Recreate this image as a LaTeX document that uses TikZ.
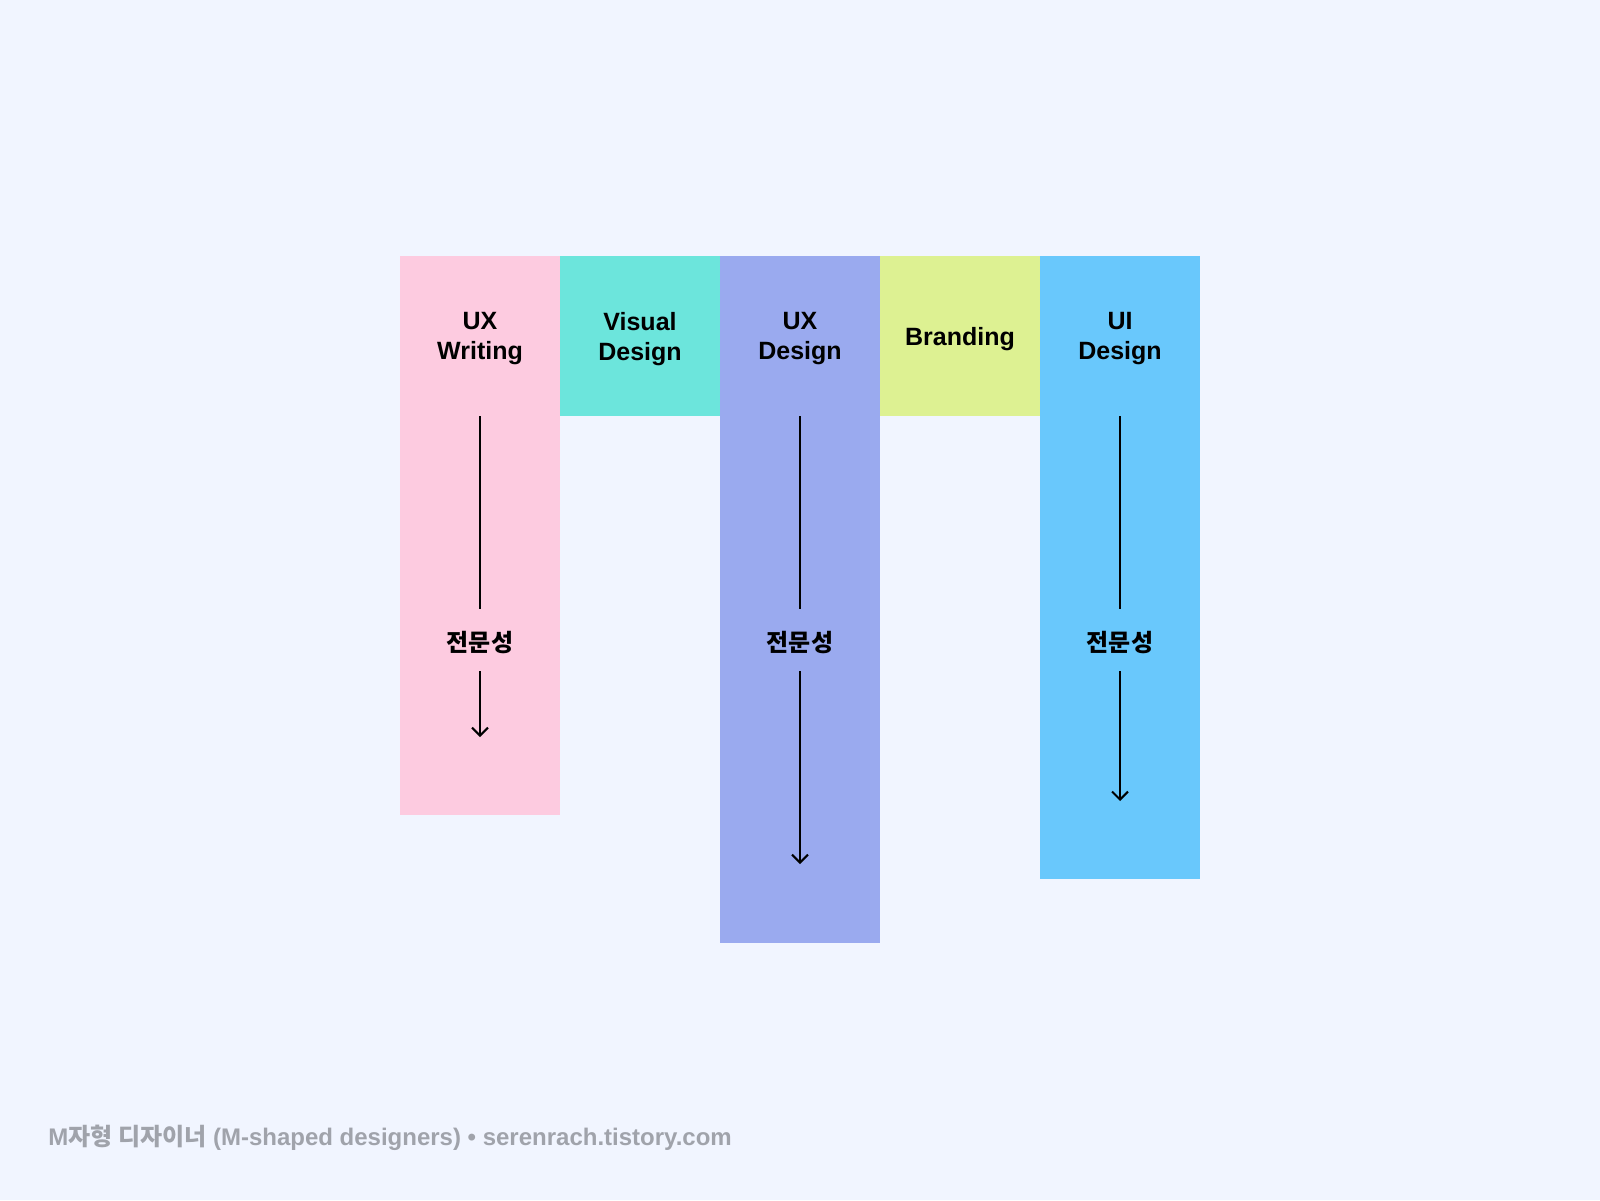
\documentclass[tikz,border=0pt]{standalone}
\usepackage{fontspec}
\setmainfont{Liberation Sans}
\newfontfamily\kr{Noto Sans CJK KR}
\usetikzlibrary{arrows.meta}
\definecolor{bgc}{HTML}{F1F5FF}
\definecolor{cpink}{HTML}{FDCBE0}
\definecolor{cteal}{HTML}{6CE5DC}
\definecolor{cpurple}{HTML}{9AAAEF}
\definecolor{clime}{HTML}{DDF192}
\definecolor{cblue}{HTML}{69C8FC}
\definecolor{foot}{HTML}{A0A3AB}
\tikzset{
  colbox/.style={anchor=north west, minimum width=80pt, inner sep=0pt, outer sep=0pt, draw=none},
  lab/.style={align=center, font=\bfseries\fontsize{12.5}{15}\selectfont, inner sep=0pt},
  kor/.style={font=\kr\bfseries\fontsize{12}{15}\selectfont, inner sep=0pt},
  stem/.style={line width=1pt, black},
  arr/.style={line width=1pt, black, -{Straight Barb[length=4pt,width=8pt,line width=1pt]}},
}
\begin{document}
\begin{tikzpicture}[x=0.5pt,y=-0.5pt]
\fill[bgc] (0,0) rectangle (1600,1200);
\useasboundingbox (0,0) rectangle (1600,1200);
% columns
\node[colbox, fill=cpink, minimum height=279.5pt] (col1) at (400,256) {};
\node[colbox, fill=cteal, minimum height=80pt] (col2) at (560,256) {};
\node[colbox, fill=cpurple, minimum height=343.5pt] (col3) at (720,256) {};
\node[colbox, fill=clime, minimum height=80pt] (col4) at (880,256) {};
\node[colbox, fill=cblue, minimum height=311.5pt] (col5) at (1040,256) {};
% header labels
\node[lab] (h1) at (480,339) {UX\\Writing};
\node[lab] (h2) at (640,339) {Visual\\Design};
\node[lab] (h3) at (800,339) {UX\\Design};
\node[lab] (h4) at (960,339) {Branding};
\node[lab] (h5) at (1120,339) {UI\\Design};
% expertise labels
\node[kor] (k1) at (480,643) {전문성};
\node[kor] (k3) at (800,643) {전문성};
\node[kor] (k5) at (1120,643) {전문성};
% arrow coordinates
\foreach \i/\x/\e in {1/480/737, 3/800/864, 5/1120/801}{
  \coordinate (s\i) at (\x,416);
  \coordinate (m\i) at (\x,609);
  \coordinate (n\i) at (\x,671);
  \coordinate (e\i) at (\x,\e);
}
\draw[stem] (s1) -- (m1);
\draw[arr] (n1) -- (e1);
\draw[stem] (s3) -- (m3);
\draw[arr] (n3) -- (e3);
\draw[stem] (s5) -- (m5);
\draw[arr] (n5) -- (e5);
% footer
\node[anchor=west, inner sep=0pt, text=foot, font=\bfseries\fontsize{12}{14}\selectfont] (foot) at (48,1138) {M{\kr\bfseries 자형 디자이너} (M-shaped designers) • serenrach.tistory.com};
\end{tikzpicture}
\end{document}
